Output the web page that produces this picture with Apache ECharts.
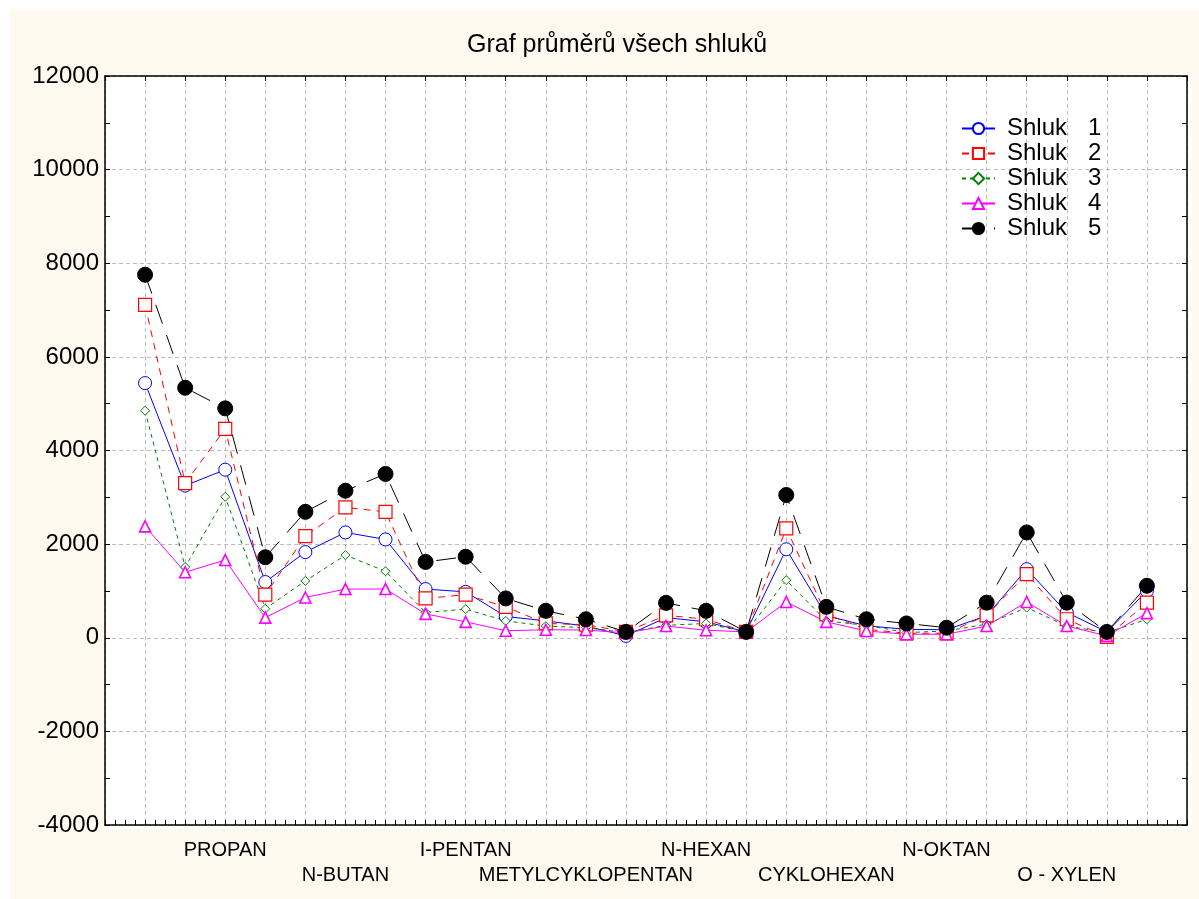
<!DOCTYPE html>
<html>
<head>
<meta charset="utf-8">
<title>Graf průměrů všech shluků</title>
<script src="https://cdn.jsdelivr.net/npm/echarts@6/dist/echarts.min.js"></script>
<style>
  html, body { margin: 0; padding: 0; background: #ffffff; }
  #chart { width: 1199px; height: 899px; }
</style>
</head>
<body>
<div id="chart"></div>
<script>
// Compounds along the x axis (only every third one carries a printed name)
const categories = [
  '', '', 'PROPAN', '', '', 'N-BUTAN', '', '', 'I-PENTAN', '', '',
  'METYLCYKLOPENTAN', '', '', 'N-HEXAN', '', '', 'CYKLOHEXAN', '', '',
  'N-OKTAN', '', '', 'O - XYLEN', '', ''
];

// Cluster means
const shluk1 = [5440, 3250, 3590, 1190, 1830, 2250, 2100, 1040, 980, 455, 360, 250, 40,
                430, 340, 125, 1890, 470, 255, 180, 170, 470, 1465, 540, 125, 1000];
const shluk2 = [7110, 3305, 4460, 920, 2170, 2785, 2690, 840, 920, 660, 305, 280, 125,
                480, 395, 125, 2335, 500, 180, 95, 95, 480, 1360, 395, 20, 750];
const shluk3 = [4850, 1510, 3010, 620, 1215, 1765, 1420, 540, 610, 360, 250, 215, 110,
                265, 305, 125, 1230, 360, 265, 110, 145, 290, 645, 250, 110, 395];
const shluk4 = [2380, 1400, 1660, 430, 860, 1040, 1040, 510, 340, 150, 170, 165, 105,
                250, 160, 125, 765, 340, 145, 75, 75, 250, 765, 250, 40, 525];
const shluk5 = [7755, 5340, 4900, 1720, 2690, 3140, 3500, 1620, 1730, 840, 575, 395, 125,
                745, 575, 125, 3050, 660, 395, 305, 215, 750, 2250, 750, 125, 1110];

const seriesNames = ['Shluk 1', 'Shluk 2', 'Shluk 3', 'Shluk 4', 'Shluk 5'];
const yTicks = { min: -4000, max: 12000, interval: 2000 };

const FONT = '"Liberation Sans", Arial, Helvetica, sans-serif';

// Position of each compound on the x scale: 1..n, leaving one unit of room at both ends
const toPoints = arr => arr.map((v, i) => [i + 1, v]);

// Alternate printed names between an upper and a lower row
const labelRow = {};
let named = 0;
categories.forEach((c, i) => { if (c) { labelRow[i] = named % 2; named++; } });

const grid = { left: 105, right: 12, top: 76, bottom: 74 };

const chart = echarts.init(document.getElementById('chart'), null, { renderer: 'canvas' });

const gridLine = { show: true, lineStyle: { color: '#bdbdbd', width: 1, type: [4, 3] } };
const axisLine = { show: true, onZero: false, lineStyle: { color: '#000', width: 1.5 } };

function lineSeries(name, data, color, dash, symbol, size, fill, borderWidth) {
  return {
    name: name,
    type: 'line',
    data: toPoints(data),
    xAxisIndex: 0,
    yAxisIndex: 0,
    symbol: symbol,
    symbolSize: size,
    showAllSymbol: true,
    animation: false,
    lineStyle: { color: color, width: 1, type: dash },
    itemStyle: { color: fill, borderColor: color, borderWidth: borderWidth },
    emphasis: { disabled: true }
  };
}

const option = {
  backgroundColor: '#ffffff',
  animation: false,
  textStyle: { fontFamily: FONT },
  graphic: [
    { type: 'rect', z: -20, silent: true,
      shape: { x: 10, y: 10, width: 1189, height: 889 },
      style: { fill: '#fef9ef' } },
    { type: 'rect', z: -10, silent: true,
      shape: { x: 105, y: 76, width: 1087, height: 753 },
      style: { fill: '#ffffff' } }
  ],
  title: {
    text: 'Graf průměrů všech shluků',
    left: 462,
    top: 28,
    textStyle: { fontFamily: FONT, fontSize: 25, fontWeight: 'normal', color: '#000' }
  },
  legend: {
    orient: 'vertical',
    left: 956,
    top: 111,
    itemWidth: 33,
    itemHeight: 14,
    itemGap: 0,
    data: seriesNames,
    formatter: function (name) {
      const parts = name.split(' ');
      return '{s|}{n|' + parts[0] + '}{d|' + parts[1] + '}';
    },
    textStyle: {
      fontFamily: FONT, fontSize: 24, color: '#000', lineHeight: 25,
      rich: {
        s: { width: 7 },
        n: { width: 81, fontSize: 24, fontFamily: FONT, color: '#000' },
        d: { fontSize: 24, fontFamily: FONT, color: '#000' }
      }
    }
  },
  grid: grid,
  xAxis: [
    {
      type: 'value',
      position: 'bottom',
      min: 0,
      max: categories.length + 1,
      interval: 1,
      axisLine: axisLine,
      axisTick: { show: true, inside: true, length: 5, lineStyle: { color: '#000' } },
      minorTick: { show: true, splitNumber: 4, length: 5, lineStyle: { color: '#000' } },
      splitLine: gridLine,
      axisLabel: {
        show: true,
        margin: 13,
        fontFamily: FONT,
        fontSize: 20,
        color: '#000',
        lineHeight: 25,
        showMinLabel: false,
        showMaxLabel: false,
        formatter: function (v) {
          const i = Math.round(v) - 1;
          const name = categories[i];
          if (!name) return '';
          return labelRow[i] === 1 ? '\n' + name : name;
        }
      }
    },
    {
      type: 'value',
      position: 'top',
      min: 0,
      max: categories.length + 1,
      interval: 1,
      axisLine: axisLine,
      axisTick: { show: true, inside: true, length: 5, lineStyle: { color: '#000' } },
      splitLine: { show: false },
      axisLabel: { show: false }
    }
  ],
  yAxis: [
    {
      type: 'value',
      position: 'left',
      min: yTicks.min,
      max: yTicks.max,
      interval: yTicks.interval,
      axisLine: axisLine,
      axisTick: { show: true, inside: true, length: 5, lineStyle: { color: '#000' } },
      minorTick: { show: true, splitNumber: 2, length: 5, lineStyle: { color: '#000' } },
      splitLine: gridLine,
      axisLabel: {
        margin: 6, fontFamily: FONT, fontSize: 24, color: '#000',
        formatter: v => String(v)
      }
    },
    {
      type: 'value',
      position: 'right',
      min: yTicks.min,
      max: yTicks.max,
      interval: yTicks.interval,
      axisLine: axisLine,
      axisTick: { show: true, inside: true, length: 5, lineStyle: { color: '#000' } },
      minorTick: { show: true, splitNumber: 2, length: 5, lineStyle: { color: '#000' } },
      splitLine: { show: false },
      axisLabel: { show: false }
    }
  ],
  series: [
    lineSeries(seriesNames[0], shluk1, '#0000ff', 'solid', 'circle', 13, '#ffffff', 1),
    lineSeries(seriesNames[1], shluk2, '#ff0000', [7, 6], 'rect', 13, '#ffffff', 1.2),
    lineSeries(seriesNames[2], shluk3, '#008000', [4, 4], 'diamond', 9, '#ffffff', 1),
    lineSeries(seriesNames[3], shluk4, '#ff00ff', 'solid', 'triangle', 11, '#ffffff', 1.6),
    lineSeries(seriesNames[4], shluk5, '#000000', [20, 12], 'circle', 15, '#000000', 1)
  ]
};

chart.setOption(option);
</script>
</body>
</html>
